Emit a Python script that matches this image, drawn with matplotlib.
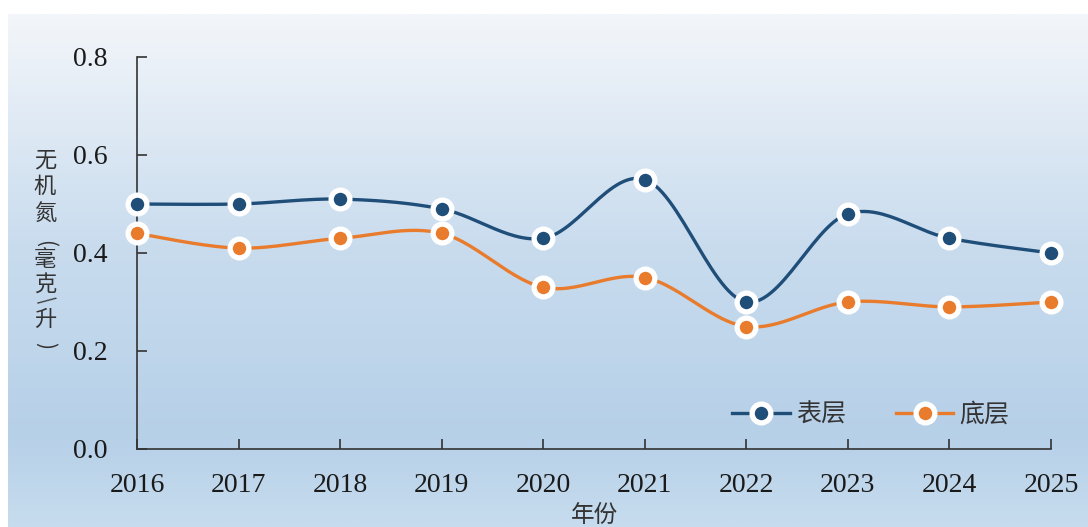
import numpy as np
import matplotlib.pyplot as plt
from matplotlib.colors import LinearSegmentedColormap

plt.rcParams["font.family"] = ["Liberation Serif", "Noto Sans CJK SC"]

# inorganic nitrogen (mg/L), surface vs bottom layer
years = [2016, 2017, 2018, 2019, 2020, 2021, 2022, 2023, 2024, 2025]
surface = [0.50, 0.50, 0.51, 0.49, 0.43, 0.55, 0.30, 0.48, 0.43, 0.40]
bottom = [0.44, 0.41, 0.43, 0.44, 0.33, 0.35, 0.25, 0.30, 0.29, 0.30]
series_names = ["表层", "底层"]
series_colors = ["#1f4e79", "#e97b2c"]
y_ticks = [0.0, 0.2, 0.4, 0.6, 0.8]

W, H = 1088, 527


def smooth(xs, ys, n=30, tension=0.5):
    # Catmull-Rom style curve through the points, like spreadsheet "smoothed line"
    xs = np.asarray(xs, float)
    ys = np.asarray(ys, float)
    px = np.concatenate([[xs[0]], xs, [xs[-1]]])
    py = np.concatenate([[ys[0]], ys, [ys[-1]]])
    ox, oy = [], []
    for i in range(1, len(px) - 2):
        p0, p1, p2, p3 = (np.array([px[j], py[j]]) for j in (i - 1, i, i + 1, i + 2))
        m1 = tension * (p2 - p0)
        m2 = tension * (p3 - p1)
        t = np.linspace(0, 1, n)[:, None]
        h00 = 2 * t**3 - 3 * t**2 + 1
        h10 = t**3 - 2 * t**2 + t
        h01 = -2 * t**3 + 3 * t**2
        h11 = t**3 - t**2
        pts = h00 * p1 + h10 * m1 + h01 * p2 + h11 * m2
        ox.extend(pts[:, 0])
        oy.extend(pts[:, 1])
    return np.array(ox), np.array(oy)


fig = plt.figure(figsize=(W / 100, H / 100), dpi=100)
fig.patch.set_facecolor("white")

# gradient panel behind the chart
bg = fig.add_axes([8 / W, 0, 1 - 8 / W, 1 - 14 / H], zorder=-10)
grad = LinearSegmentedColormap.from_list(
    "bg", [(0.0, "#c7dcee"), (0.18, "#b6d0e8"), (0.55, "#c9dcee"), (1.0, "#f3f6fa")])
bg.imshow(np.linspace(0, 1, 256)[:, None], aspect="auto", cmap=grad,
          origin="lower", extent=[0, 1, 0, 1])
bg.set_axis_off()

ax = fig.add_axes([137 / W, 1 - 449 / H, (1051 - 137) / W, (449 - 57) / H])
ax.patch.set_alpha(0)

for vals, name, col in zip([surface, bottom], series_names, series_colors):
    sx, sy = smooth(years, vals)
    ax.plot(sx, sy, color=col, lw=2.4, zorder=3, clip_on=False, solid_capstyle="round")
    ax.plot(years, vals, ls="none", marker="o", ms=13.5, mfc=col, mec="white",
            mew=3.8, zorder=4, clip_on=False)
    # legend handle only
    ax.plot([], [], color=col, lw=2.4, marker="o", ms=13.5, mfc=col, mec="white",
            mew=3.8, label=name)

ax.set_xlim(2016, 2025)
ax.set_ylim(0, 0.8)
ax.set_xticks(years)
ax.set_xticklabels([str(y) for y in years])
ax.set_yticks(y_ticks)
ax.set_yticklabels([f"{v:.1f}" for v in y_ticks])

for side in ("top", "right"):
    ax.spines[side].set_visible(False)
for side in ("left", "bottom"):
    ax.spines[side].set_color("#333333")
    ax.spines[side].set_linewidth(1.2)
ax.tick_params(direction="in", length=7, width=1.2, color="#333333",
               labelsize=20, labelcolor="#1a1a1a")
ax.tick_params(axis="x", pad=17)
ax.tick_params(axis="y", pad=21)

fig.text(594 / W, 1 - 515 / H, "年份", family="Noto Sans CJK SC", fontsize=17,
         color="#333333", ha="center", va="center")

# vertical stacked y label (pixel rows from the top)
ylab = ["无", "机", "氮", "毫", "克", "升"]
yrow = [160, 186, 213, 260, 284, 319]
for ch, yy in zip(ylab, yrow):
    fig.text(45 / W, 1 - yy / H, ch, family="Noto Sans CJK SC",
             fontsize=16, color="#333333", ha="center", va="center")
# brackets and slash lie on their side, as in rotated text
for ch, yy, rot, fs in [("(", 244, -90, 15), (")", 346, -90, 15), ("/", 301, -58, 14)]:
    fig.text(45 / W, 1 - yy / H, ch, family="Noto Sans CJK SC", fontsize=fs,
             color="#333333", ha="center", va="center", rotation=rot,
             rotation_mode="anchor")

leg = ax.legend(loc="center", bbox_to_anchor=(0.803, 0.087), ncol=2, frameon=False,
                prop={"family": "Noto Sans CJK SC", "size": 18}, handlelength=2.3,
                columnspacing=2.0, handletextpad=0.25)
for t in leg.get_texts():
    t.set_color("#333333")

fig.savefig("out.png", dpi=100)
